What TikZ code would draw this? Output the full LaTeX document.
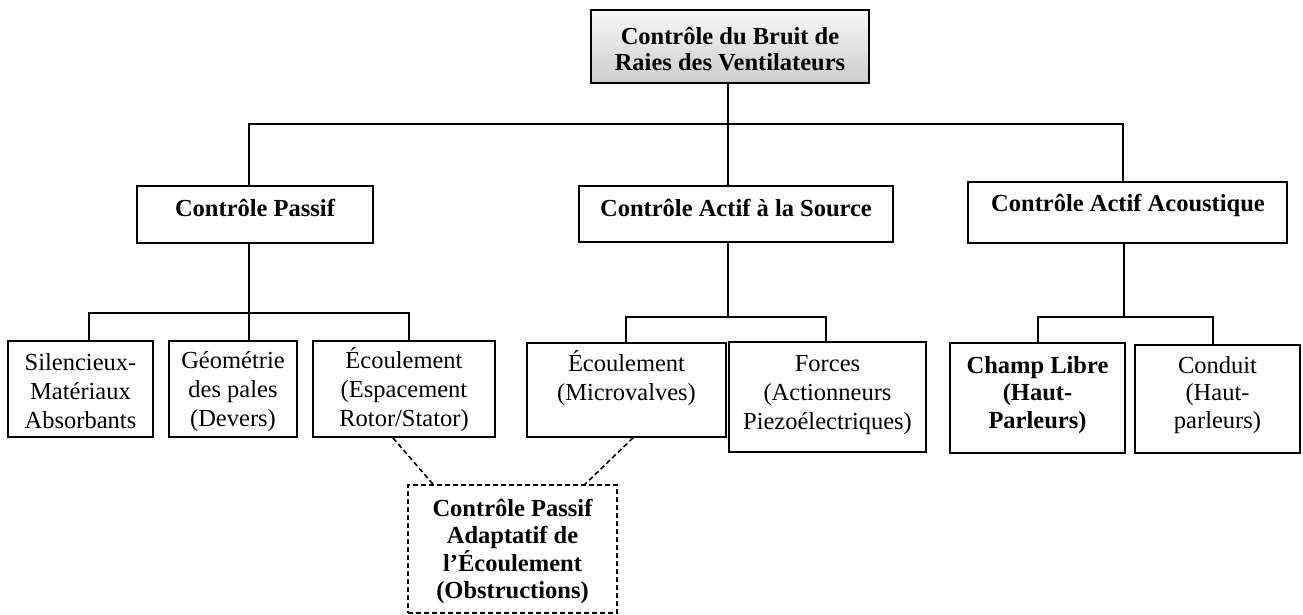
\documentclass[tikz,border=0pt]{standalone}
\usepackage{fontspec}
\setmainfont{Liberation Serif}
\definecolor{gtop}{RGB}{248,248,248}
\definecolor{gbot}{RGB}{205,205,205}
\begin{document}
\begin{tikzpicture}[x=0.5pt,y=-0.5pt,
  box/.style={draw, line width=0.9pt, rectangle, inner sep=0pt},
  dbox/.style={draw, line width=0.8pt, rectangle, inner sep=0pt, dash pattern=on 2.5pt off 1.5pt},
  conn/.style={line width=0.8pt},
  dconn/.style={line width=0.8pt, dash pattern=on 2.5pt off 1.5pt},
  txt/.style={inner sep=0pt, align=center, font=\fontsize{12.25}{14.5}\selectfont},
  txtr/.style={inner sep=0pt, align=center, font=\fontsize{12.25}{13.8}\selectfont},
  btxt/.style={inner sep=0pt, align=center, font=\fontsize{12.25}{13.6}\selectfont\bfseries},
]
\useasboundingbox (0,0) rectangle (1303,615);

% boxes
\node[box, top color=gtop, bottom color=gbot, minimum width=139pt, minimum height=36.5pt] (top) at (730,46.5) {};
\node[box, minimum width=118pt, minimum height=28.5pt] (cp) at (255,214.5) {};
\node[box, minimum width=157pt, minimum height=28pt] (cas) at (736,214) {};
\node[box, minimum width=159.5pt, minimum height=30.5pt] (caa) at (1127.5,212.5) {};
\node[box, minimum width=72.5pt, minimum height=48pt] (sil) at (80.5,389) {};
\node[box, minimum width=64pt, minimum height=48pt] (geo) at (233,389) {};
\node[box, minimum width=91pt, minimum height=48pt] (ecr) at (404,389) {};
\node[box, minimum width=99.5pt, minimum height=47pt] (mic) at (626.5,390) {};
\node[box, minimum width=98.5pt, minimum height=55pt] (frc) at (827.5,397) {};
\node[box, minimum width=87.5pt, minimum height=55pt] (chl) at (1037.5,398) {};
\node[box, minimum width=82.5pt, minimum height=54pt] (cdt) at (1217.5,399) {};
\node[dbox, minimum width=104.5pt, minimum height=64pt] (dsh) at (512.5,549) {};

% texts
\node[btxt, font=\fontsize{12.25}{13.2}\selectfont\bfseries] (top-t) at (730,49) {Contrôle du Bruit de\\Raies des Ventilateurs};
\node[btxt, anchor=base] (cp-t) at (255,217) {Contrôle Passif};
\node[btxt, anchor=base] (cas-t) at (736,217) {Contrôle Actif à la Source};
\node[btxt, anchor=base] (caa-t) at (1128,212) {Contrôle Actif Acoustique};
\node[txt] (sil-t) at (80.5,391) {Silencieux-\\Matériaux\\Absorbants};
\node[txt] (geo-t) at (233,392) {Géométrie\\des pales\\(Devers)};
\node[txt] (ecr-t) at (404,390) {Écoulement\\(Espacement\\Rotor/Stator)};
\node[txt] (mic-t) at (626.5,378) {Écoulement\\(Microvalves)};
\node[txt] (frc-t) at (827.5,395) {Forces\\(Actionneurs\\Piezoélectriques)};
\node[btxt] (chl-t) at (1037.5,395) {Champ Libre\\(Haut-\\Parleurs)};
\node[txtr] (cdt-t) at (1217.5,395) {Conduit\\(Haut-\\parleurs)};
\node[btxt] (dsh-t) at (512.5,551.5) {Contrôle Passif\\Adaptatif de\\l’Écoulement\\(Obstructions)};

% junction coordinates
\coordinate (h1l) at (249,124);
\coordinate (h1m) at (728,124);
\coordinate (h1r) at (1123,124);
\coordinate (h2m) at (249,313);
\coordinate (h2l) at (89,313);
\coordinate (h2r) at (409,313);
\coordinate (h3m) at (728,317);
\coordinate (h3l) at (626,317);
\coordinate (h3r) at (826,317);
\coordinate (h4m) at (1124,317);
\coordinate (h4l) at (1038,317);
\coordinate (h4r) at (1213,317);

% connectors level 1
\draw[conn] (top.south -| h1m) -- (cas.north -| h1m);
\draw[conn] (cp.north -| h1l) -- (h1l) -- (h1r) -- (caa.north -| h1r);

% passive subtree
\draw[conn] (cp.south -| h2m) -- (geo.north -| h2m);
\draw[conn] (sil.north -| h2l) -- (h2l) -- (h2r) -- (ecr.north -| h2r);

% active source subtree
\draw[conn] (cas.south -| h3m) -- (h3m);
\draw[conn] (mic.north -| h3l) -- (h3l) -- (h3r) -- (frc.north -| h3r);

% active acoustic subtree
\draw[conn] (caa.south -| h4m) -- (h4m);
\draw[conn] (chl.north -| h4l) -- (h4l) -- (h4r) -- (cdt.north -| h4r);

% dashed links
\draw[dconn] ([xshift=-5.5pt]ecr.south) -- ([xshift=-39.75pt]dsh.north);
\draw[dconn] ([xshift=3.25pt]mic.south) -- ([xshift=36.25pt]dsh.north);
\end{tikzpicture}
\end{document}
